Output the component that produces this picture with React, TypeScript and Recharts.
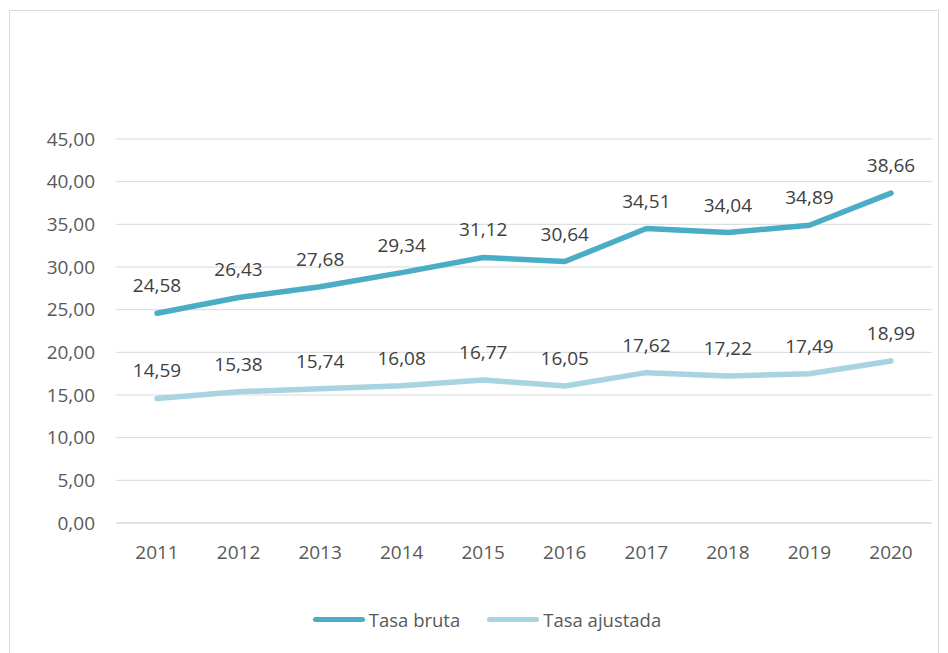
import { LineChart, Line, XAxis, YAxis, CartesianGrid, LabelList } from "recharts";

const years = ["2011", "2012", "2013", "2014", "2015", "2016", "2017", "2018", "2019", "2020"];
const tasaBruta = [24.58, 26.43, 27.68, 29.34, 31.12, 30.64, 34.51, 34.04, 34.89, 38.66];
const tasaAjustada = [14.59, 15.38, 15.74, 16.08, 16.77, 16.05, 17.62, 17.22, 17.49, 18.99];
const yTicks = [0, 5, 10, 15, 20, 25, 30, 35, 40, 45];

const series = [
  { key: "bruta", name: "Tasa bruta", color: "#4BACC6" },
  { key: "ajustada", name: "Tasa ajustada", color: "#A8D3E0" },
];

const data = years.map((year, i) => ({
  year,
  bruta: tasaBruta[i],
  ajustada: tasaAjustada[i],
}));

const fmt = (v: number) => v.toFixed(2).replace(".", ",");

const tickStyle = { fontSize: 19, fill: "#595959" };

export default function App() {
  return (
    <div
      style={{
        position: "absolute",
        left: 0,
        top: 0,
        width: 948,
        height: 653,
        overflow: "hidden",
        background: "#fff",
        fontFamily: "'Open Sans', sans-serif",
      }}
    >
      {/* chart frame */}
      <div
        style={{
          position: "absolute",
          left: 9,
          top: 10,
          width: 928,
          height: 700,
          border: "1px solid #d9d9d9",
        }}
      />
      <LineChart width={948} height={653} data={data} margin={{ top: 139, right: 16, bottom: 90, left: 0 }}>
        <CartesianGrid vertical={false} stroke="#d9d9d9" />
        <XAxis
          dataKey="year"
          height={40}
          padding={{ left: 41, right: 41 }}
          tick={tickStyle}
          tickLine={false}
          axisLine={{ stroke: "#d9d9d9" }}
          tickMargin={17}
        />
        <YAxis
          width={116}
          domain={[0, 45]}
          ticks={yTicks}
          tickFormatter={fmt}
          tick={tickStyle}
          tickLine={false}
          axisLine={false}
          tickMargin={15}
        />
        {series.map((s) => (
          <Line
            key={s.key}
            dataKey={s.key}
            name={s.name}
            stroke={s.color}
            strokeWidth={5.5}
            strokeLinecap="round"
            strokeLinejoin="round"
            dot={false}
            type="linear"
            isAnimationActive={false}
          >
            <LabelList dataKey={s.key} position="top" offset={21} formatter={(v: any) => fmt(Number(v))} style={{ fontSize: 19, fill: "#404040" }} />
          </Line>
        ))}
      </LineChart>
      {/* legend */}
      <div
        style={{
          position: "absolute",
          top: 607,
          left: 0,
          width: 948,
          display: "flex",
          justifyContent: "center",
          paddingLeft: 26,
          boxSizing: "border-box",
          gap: 27,
          fontSize: 18.5,
          color: "#595959",
        }}
      >
        {series.map((s) => (
          <div key={s.key} style={{ display: "flex", alignItems: "center", gap: 4 }}>
            <span style={{ width: 52, height: 5, borderRadius: 3, background: s.color, display: "inline-block" }} />
            <span>{s.name}</span>
          </div>
        ))}
      </div>
    </div>
  );
}
